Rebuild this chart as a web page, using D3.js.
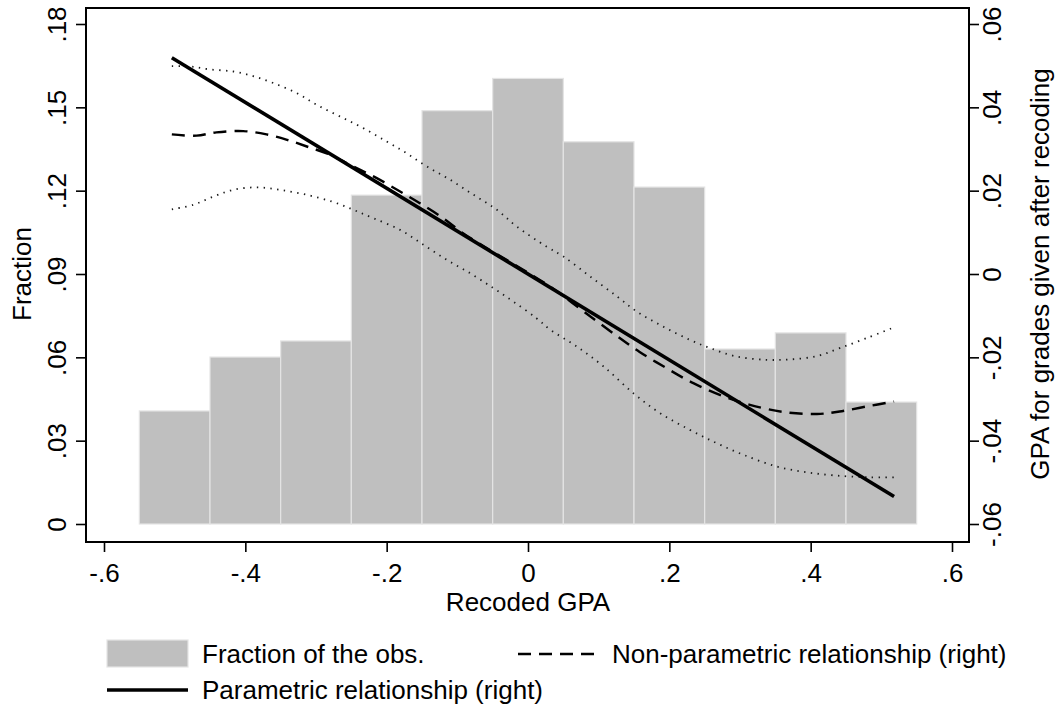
<!DOCTYPE html>
<html>
<head>
<meta charset="utf-8">
<script src="https://cdn.jsdelivr.net/npm/d3@7"></script>
<style>
  body { margin: 0; background: #fff; }
  svg { display: block; font-family: "Liberation Sans", Arial, sans-serif; }
</style>
</head>
<body>
<div class="chart"></div>
<script>
// histogram (left axis)
const binCenters = [-0.5, -0.4, -0.3, -0.2, -0.1, 0, 0.1, 0.2, 0.3, 0.4, 0.5];
const fractions = [0.0407, 0.0601, 0.0659, 0.1184, 0.1488, 0.1604, 0.1376, 0.1213, 0.063, 0.0688, 0.0439];
const binWidth = 0.1;

// parametric relationship (right axis)
const paramX = [-0.504, 0.518];
const paramY = [0.0519, -0.0534];

// non-parametric relationship (right axis)
const npX = [-0.504, -0.469, -0.441, -0.403, -0.370, -0.341, -0.313, -0.280, -0.247, -0.214, -0.181, -0.153, -0.120, -0.092, -0.058,
  0.031, 0.078, 0.126, 0.158, 0.196, 0.234, 0.276, 0.314, 0.361, 0.409, 0.441, 0.479, 0.518];
const npY = [0.0335, 0.0332, 0.0340, 0.0343, 0.0335, 0.0322, 0.0306, 0.0286, 0.0258, 0.0230, 0.0198, 0.0170, 0.0134, 0.0098, 0.0062,
  -0.0030, -0.0089, -0.0149, -0.0187, -0.0226, -0.0262, -0.0293, -0.0314, -0.0331, -0.0336, -0.0330, -0.0318, -0.0306];

// confidence band, upper and lower (right axis)
const ciUpX = [-0.504, -0.478, -0.450, -0.417, -0.389, -0.360, -0.327, -0.299, -0.266, -0.233, -0.200, -0.172, -0.143, -0.110, -0.077, -0.044, -0.016,
  0.026, 0.050, 0.088, 0.126, 0.154, 0.191, 0.229, 0.258, 0.295, 0.338, 0.371, 0.409, 0.441, 0.479, 0.518];
const ciUpY = [0.0499, 0.0498, 0.0491, 0.0486, 0.0475, 0.0458, 0.0434, 0.0406, 0.0378, 0.0350, 0.0318, 0.0290, 0.0258, 0.0226, 0.0190, 0.0154, 0.0114,
  0.0066, 0.0042, -0.0006, -0.0054, -0.0090, -0.0126, -0.0158, -0.0178, -0.0198, -0.0206, -0.0205, -0.0197, -0.0178, -0.0154, -0.0128];
const ciLoX = [-0.504, -0.474, -0.445, -0.417, -0.384, -0.351, -0.313, -0.276, -0.247, -0.219, -0.181, -0.148, -0.115, -0.082, -0.049, -0.021, 0.012,
  0.031, 0.069, 0.107, 0.149, 0.187, 0.229, 0.267, 0.305, 0.352, 0.399, 0.446, 0.484, 0.518];
const ciLoY = [0.0155, 0.0166, 0.0186, 0.0202, 0.0208, 0.0202, 0.0190, 0.0173, 0.0154, 0.0134, 0.0106, 0.0070, 0.0034, 0.0002, -0.0034, -0.0066, -0.0106,
  -0.0133, -0.0174, -0.0222, -0.0286, -0.0334, -0.0374, -0.0406, -0.0434, -0.0462, -0.0477, -0.0485, -0.0488, -0.0488];

// ticks
const xTicks = [-0.6, -0.4, -0.2, 0, 0.2, 0.4, 0.6];
const xTickLabels = ["-.6", "-.4", "-.2", "0", ".2", ".4", ".6"];
const leftTicks = [0, 0.03, 0.06, 0.09, 0.12, 0.15, 0.18];
const leftTickLabels = ["0", ".03", ".06", ".09", ".12", ".15", ".18"];
const rightTicks = [-0.06, -0.04, -0.02, 0, 0.02, 0.04, 0.06];
const rightTickLabels = ["-.06", "-.04", "-.02", "0", ".02", ".04", ".06"];

function init(){
    const w = 1062, h = 710;
    const frame = {left: 86, right: 969, top: 8, bottom: 542};
    const fs = 26;

    const svg = d3.select(".chart").append("svg").attr("width", w).attr("height", h);

    const x = d3.scaleLinear().domain([-0.6, 0.6]).range([104, 952]);
    const yL = d3.scaleLinear().domain([0, 0.18]).range([524, 24]);
    const yR = d3.scaleLinear().domain([-0.06, 0.06]).range([524, 24]);

    // bars
    svg.append("g").selectAll("rect")
    .data(binCenters.map((c, i) => ({c: c, v: fractions[i]})))
    .join("rect")
    .attr("x", d => x(d.c - binWidth/2))
    .attr("width", d => x(d.c + binWidth/2) - x(d.c - binWidth/2))
    .attr("y", d => yL(d.v))
    .attr("height", d => yL(0) - yL(d.v))
    .style("fill", "#bfbfbf")
    .style("stroke", "#e4e4e4")
    .style("stroke-width", "1.2px");

    const lineR = d3.line().x(d => x(d[0])).y(d => yR(d[1])).curve(d3.curveCatmullRom);
    const zip = (a, b) => a.map((v, i) => [v, b[i]]);

    // confidence band
    [zip(ciUpX, ciUpY), zip(ciLoX, ciLoY)].forEach(pts => {
        svg.append("path")
        .attr("d", lineR(pts))
        .style("fill", "none")
        .style("stroke", "#1a1a1a")
        .style("stroke-width", "1.8px")
        .style("stroke-dasharray", "1.4,5.4");
    });

    // non-parametric
    svg.append("path")
    .attr("d", lineR(zip(npX, npY)))
    .style("fill", "none")
    .style("stroke", "#000")
    .style("stroke-width", "2.4px")
    .style("stroke-dasharray", "13,8");

    // parametric
    svg.append("path")
    .attr("d", d3.line().x(d => x(d[0])).y(d => yR(d[1]))(zip(paramX, paramY)))
    .style("fill", "none")
    .style("stroke", "#000")
    .style("stroke-width", "3.6px");

    // frame
    svg.append("rect")
    .attr("x", frame.left).attr("y", frame.top)
    .attr("width", frame.right - frame.left).attr("height", frame.bottom - frame.top)
    .style("fill", "none").style("stroke", "#000").style("stroke-width", "2px");

    // axes
    const styleAxis = g => {
        g.select(".domain").remove();
        g.selectAll(".tick line").style("stroke", "#000").style("stroke-width", "1.6px");
        g.selectAll("text").style("font-size", fs + "px").style("fill", "#000").attr("font-family", null);
    };

    svg.append("g")
    .attr("transform", `translate(0,${frame.bottom})`)
    .call(d3.axisBottom(x).tickValues(xTicks).tickSize(10).tickFormat((d, i) => xTickLabels[i]))
    .call(styleAxis)
    .call(g => g.selectAll(".tick text").attr("y", 40).attr("dy", null));

    svg.append("g")
    .attr("transform", `translate(${frame.left},0)`)
    .call(d3.axisLeft(yL).tickValues(leftTicks).tickSize(10).tickFormat((d, i) => leftTickLabels[i]))
    .call(styleAxis)
    .call(g => g.selectAll(".tick text")
        .attr("transform", "rotate(-90)")
        .attr("x", 0).attr("y", -20).attr("dy", null)
        .attr("text-anchor", "middle"));

    svg.append("g")
    .attr("transform", `translate(${frame.right},0)`)
    .call(d3.axisRight(yR).tickValues(rightTicks).tickSize(10).tickFormat((d, i) => rightTickLabels[i]))
    .call(styleAxis)
    .call(g => g.selectAll(".tick text")
        .attr("transform", "rotate(-90)")
        .attr("x", 0).attr("y", 32).attr("dy", null)
        .attr("text-anchor", "middle"));

    // axis titles
    svg.append("text")
    .attr("x", 528).attr("y", 611)
    .attr("text-anchor", "middle")
    .style("font-size", fs + "px")
    .text("Recoded GPA");

    svg.append("text")
    .attr("transform", `translate(31,274) rotate(-90)`)
    .attr("text-anchor", "middle")
    .style("font-size", fs + "px")
    .text("Fraction");

    svg.append("text")
    .attr("transform", `translate(1049,274) rotate(-90)`)
    .attr("text-anchor", "middle")
    .style("font-size", fs + "px")
    .text("GPA for grades given after recoding");

    // legend
    const lg = svg.append("g");
    lg.append("rect")
    .attr("x", 107).attr("y", 640).attr("width", 81).attr("height", 27)
    .style("fill", "#bfbfbf").style("stroke", "#e4e4e4").style("stroke-width", "1.2px");
    lg.append("text").attr("x", 202).attr("y", 663).style("font-size", fs + "px").text("Fraction of the obs.");

    lg.append("line")
    .attr("x1", 518).attr("x2", 598).attr("y1", 654).attr("y2", 654)
    .style("stroke", "#000").style("stroke-width", "2.4px").style("stroke-dasharray", "13,8");
    lg.append("text").attr("x", 612).attr("y", 663).style("font-size", fs + "px").text("Non-parametric relationship (right)");

    lg.append("line")
    .attr("x1", 107).attr("x2", 188).attr("y1", 690).attr("y2", 690)
    .style("stroke", "#000").style("stroke-width", "3.6px");
    lg.append("text").attr("x", 202).attr("y", 699).style("font-size", fs + "px").text("Parametric relationship (right)");
}
window.onload = init;
</script>
</body>
</html>
